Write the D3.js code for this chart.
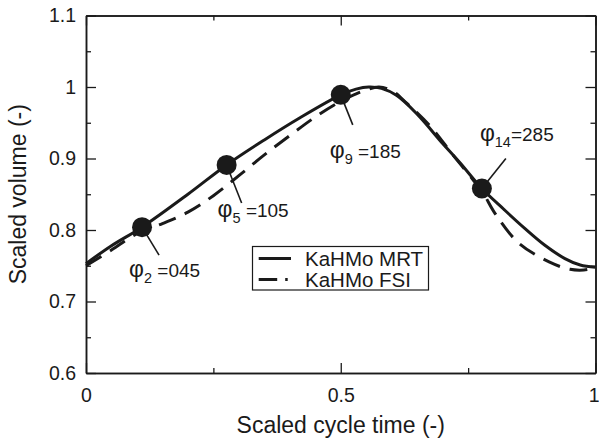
<!DOCTYPE html>
<html>
<head>
<meta charset="utf-8">
<script src="https://cdn.jsdelivr.net/npm/d3@7"></script>
<style>
  html, body { margin: 0; padding: 0; background: #fff; }
  svg { display: block; }
  text { font-family: "Liberation Sans", Arial, Helvetica, sans-serif; fill: #1a1a1a; }
</style>
</head>
<body>
<svg id="chart" width="599" height="439"></svg>
<script>
// Scaled cycle time and scaled volume, KaHMo MRT (solid)
const timeMRT = [0, 0.05, 0.11, 0.2, 0.276, 0.35, 0.42, 0.5, 0.53, 0.555, 0.58, 0.61, 0.65, 0.7, 0.734, 0.777, 0.82, 0.86, 0.9, 0.94, 0.97, 1.0];
const volMRT  = [0.753, 0.778, 0.804, 0.850, 0.891, 0.926, 0.957, 0.989, 0.997, 1.0, 0.998, 0.988, 0.962, 0.921, 0.894, 0.858, 0.829, 0.803, 0.779, 0.760, 0.751, 0.748];

// KaHMo FSI (dashed)
const timeFSI = [0, 0.05, 0.1, 0.15, 0.2, 0.25, 0.3, 0.35, 0.4, 0.45, 0.5, 0.55, 0.575, 0.6, 0.63, 0.677, 0.72, 0.76, 0.78, 0.803, 0.849, 0.91, 0.95, 0.977, 1.0];
const volFSI  = [0.750, 0.772, 0.795, 0.809, 0.825, 0.848, 0.876, 0.905, 0.932, 0.958, 0.980, 0.996, 1.0, 0.995, 0.977, 0.944, 0.905, 0.870, 0.851, 0.823, 0.782, 0.755, 0.745, 0.744, 0.747];

// Marked phases on the MRT curve
const phaseTime  = [0.11, 0.276, 0.5, 0.777];
const phaseVol   = [0.804, 0.891, 0.989, 0.858];
const phaseIndex = ["2", "5", "9", "14"];
const phaseAngle = ["045", "105", "185", "285"];

// Axis ticks
const xMajorTicks = [0, 0.5, 1];
const xMinorTicks = [0.25, 0.75];
const yMajorTicks = [0.6, 0.7, 0.8, 0.9, 1.0, 1.1];
const yMinorTicks = [0.65, 0.75, 0.85, 0.95, 1.05];
const xTickLabels = ["0", "0.5", "1"];
const yTickLabels = ["0.6", "0.7", "0.8", "0.9", "1", "1.1"];

const seriesNames = ["KaHMo MRT", "KaHMo FSI"];

const svg = d3.select("#chart");
const plotLeft = 86, plotRight = 595.5, plotTop = 15.5, plotBottom = 373;
const x = d3.scaleLinear().domain([0, 1]).range([plotLeft, plotRight]);
const y = d3.scaleLinear().domain([0.6, 1.1]).range([plotBottom, plotTop]);
const ink = "#1a1a1a";

function styleAxis(g, fontSize) {
  g.selectAll("path.domain").attr("stroke", ink).attr("stroke-width", 1.5);
  g.selectAll(".tick line").attr("stroke", ink).attr("stroke-width", 1.3);
  g.selectAll(".tick text").attr("font-size", fontSize).attr("fill", ink)
    .style("font-family", "'Liberation Sans', Arial, sans-serif");
}

// Bottom axis
const gx = svg.append("g").attr("transform", `translate(0,${plotBottom})`)
  .call(d3.axisBottom(x).tickValues(xMajorTicks).tickSize(-10).tickSizeOuter(0).tickPadding(15)
    .tickFormat((d, i) => xTickLabels[i]));
styleAxis(gx, 19.5);
// keep the last label inside the page edge
gx.selectAll(".tick text").filter(d => d === 1).attr("text-anchor", "end").attr("x", 599 - plotRight);
const gxm = svg.append("g").attr("transform", `translate(0,${plotBottom})`)
  .call(d3.axisBottom(x).tickValues(xMinorTicks).tickSize(-5).tickSizeOuter(0).tickFormat(""));
styleAxis(gxm, 19);

// Top axis (mirror)
const gt = svg.append("g").attr("transform", `translate(0,${plotTop})`)
  .call(d3.axisTop(x).tickValues(xMajorTicks).tickSize(-10).tickSizeOuter(0).tickFormat(""));
styleAxis(gt, 19);
const gtm = svg.append("g").attr("transform", `translate(0,${plotTop})`)
  .call(d3.axisTop(x).tickValues(xMinorTicks).tickSize(-5).tickSizeOuter(0).tickFormat(""));
styleAxis(gtm, 19);

// Left axis
const gy = svg.append("g").attr("transform", `translate(${plotLeft},0)`)
  .call(d3.axisLeft(y).tickValues(yMajorTicks).tickSize(-10).tickSizeOuter(0).tickPadding(10)
    .tickFormat((d, i) => yTickLabels[i]));
styleAxis(gy, 19.5);
const gym = svg.append("g").attr("transform", `translate(${plotLeft},0)`)
  .call(d3.axisLeft(y).tickValues(yMinorTicks).tickSize(-5).tickSizeOuter(0).tickFormat(""));
styleAxis(gym, 19);

// Right axis (mirror)
const gr = svg.append("g").attr("transform", `translate(${plotRight},0)`)
  .call(d3.axisRight(y).tickValues(yMajorTicks).tickSize(-10).tickSizeOuter(0).tickFormat(""));
styleAxis(gr, 19);
const grm = svg.append("g").attr("transform", `translate(${plotRight},0)`)
  .call(d3.axisRight(y).tickValues(yMinorTicks).tickSize(-5).tickSizeOuter(0).tickFormat(""));
styleAxis(grm, 19);

// Axis titles
svg.append("text").attr("x", (plotLeft + plotRight) / 2).attr("y", 433)
  .attr("text-anchor", "middle").attr("font-size", 23).text("Scaled cycle time (-)");
svg.append("text").attr("transform", `translate(26,${(plotTop + plotBottom) / 2}) rotate(-90)`)
  .attr("text-anchor", "middle").attr("font-size", 23).text("Scaled volume (-)");

// Curves
const line = d3.line().x(d => x(d[0])).y(d => y(d[1])).curve(d3.curveCatmullRom.alpha(0.5));
const mrt = timeMRT.map((t, i) => [t, volMRT[i]]);
const fsi = timeFSI.map((t, i) => [t, volFSI[i]]);

svg.append("path").datum(fsi).attr("d", line).attr("fill", "none")
  .attr("stroke", ink).attr("stroke-width", 3).attr("stroke-dasharray", "18,10");
svg.append("path").datum(mrt).attr("d", line).attr("fill", "none")
  .attr("stroke", ink).attr("stroke-width", 3);

// Phase markers, leader lines and labels (offsets in px from marker centre)
const leaderEnd = [[17, 28], [15, 38], [12, 30], [24, -30]];
const labelPos  = [[-13, 50], [-9, 52], [-11, 63], [-2, -48]];
const spaced    = [true, true, true, false];

phaseTime.forEach((t, i) => {
  const cx = x(t), cy = y(phaseVol[i]);
  svg.append("line").attr("x1", cx).attr("y1", cy)
    .attr("x2", cx + leaderEnd[i][0]).attr("y2", cy + leaderEnd[i][1])
    .attr("stroke", ink).attr("stroke-width", 1.6);
  svg.append("circle").attr("cx", cx).attr("cy", cy).attr("r", 10).attr("fill", ink);
  const tx = svg.append("text").attr("x", cx + labelPos[i][0]).attr("y", cy + labelPos[i][1])
    .attr("font-size", 19);
  tx.append("tspan").attr("font-size", 23).text("φ");
  tx.append("tspan").attr("font-size", 14.5).attr("dy", 6).text(phaseIndex[i]);
  tx.append("tspan").attr("dy", -6).text((spaced[i] ? " " : "") + "=" + phaseAngle[i]);
});

// Legend
const lg = svg.append("g");
lg.append("rect").attr("x", 252.5).attr("y", 246.5).attr("width", 176).attr("height", 43.5)
  .attr("fill", "#fff").attr("stroke", ink).attr("stroke-width", 1.2);
const legendDash = [null, "18.5,8,2.5,8"];
seriesNames.forEach((name, i) => {
  const ly = 258.5 + i * 21;
  lg.append("line").attr("x1", 258.7).attr("x2", 291).attr("y1", ly).attr("y2", ly)
    .attr("stroke", ink).attr("stroke-width", 3)
    .attr("stroke-dasharray", legendDash[i]);
  lg.append("text").attr("x", 305).attr("y", ly + 7).attr("font-size", 20.5).text(name);
});
</script>
</body>
</html>
